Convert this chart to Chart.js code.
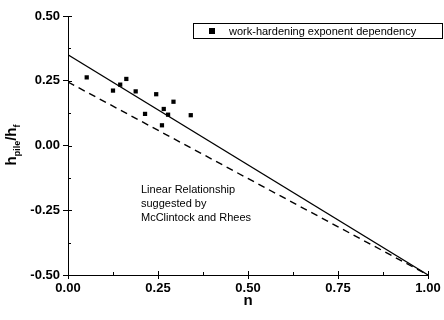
<!DOCTYPE html>
<html><head><meta charset="utf-8">
<script src="https://cdn.jsdelivr.net/npm/chart.js@4/dist/chart.umd.min.js"></script>
<style>html,body{margin:0;padding:0;background:#fff}#w{width:444px;height:320px}</style>
</head><body><div id="w"><canvas id="c" width="444" height="320"></canvas></div>
<script>
// ---- data ----
const nValues      = [0.052, 0.125, 0.145, 0.162, 0.188, 0.214, 0.245, 0.266, 0.261, 0.278, 0.293, 0.341];
const ratioValues  = [0.263, 0.212, 0.235, 0.257, 0.209, 0.122, 0.198, 0.141, 0.078, 0.119, 0.169, 0.117];
const lineN        = [0, 1];
const solidLine    = [0.35, -0.5];
const dashedLine   = [0.245, -0.5];
const xTicks       = [0, 0.25, 0.5, 0.75, 1];
const yTicks       = [-0.5, -0.25, 0, 0.25, 0.5];
const seriesLabel  = 'work-hardening exponent dependency';
const noteLines    = ['Linear Relationship', 'suggested by', 'McClintock and Rhees'];
const xTitle       = 'n';

const FONT = '"Liberation Sans", Arial, sans-serif';
const toXY = (xs, ys) => xs.map((x, i) => ({x: x, y: ys[i]}));

const decor = {
  id: 'decor',
  afterDraw(chart) {
    const ctx = chart.ctx, xs = chart.scales.x, ys = chart.scales.y, a = chart.chartArea;
    ctx.save();
    ctx.strokeStyle = '#000'; ctx.lineWidth = 1;
    // minor + inner ticks
    ctx.beginPath();
    for (let v = 0; v <= 1.0001; v += 0.125) {
      const px = Math.round(xs.getPixelForValue(v)) + 0.5;
      const len = (Math.abs(v / 0.25 - Math.round(v / 0.25)) < 1e-6) ? 4 : 3;
      ctx.moveTo(px, a.bottom); ctx.lineTo(px, a.bottom - len);
    }
    for (let v = -0.5; v <= 0.5001; v += 0.125) {
      const py = Math.round(ys.getPixelForValue(v)) + 0.5;
      const len = (Math.abs(v / 0.25 - Math.round(v / 0.25)) < 1e-6) ? 4 : 3;
      ctx.moveTo(a.left, py); ctx.lineTo(a.left + len, py);
    }
    ctx.stroke();

    // legend box
    const lx = 193, ly = 23, lw = 250, lh = 16;
    ctx.fillStyle = '#fff';
    ctx.fillRect(lx, ly, lw, lh);
    ctx.strokeRect(lx + 0.5, ly + 0.5, lw - 1, lh - 1);
    ctx.fillStyle = '#000';
    ctx.fillRect(209, 28, 6, 6);
    ctx.font = '11px ' + FONT;
    ctx.textBaseline = 'middle'; ctx.textAlign = 'left';
    ctx.fillText(seriesLabel, 229, 31.5);

    // annotation
    ctx.font = '11px ' + FONT;
    noteLines.forEach((t, i) => ctx.fillText(t, 141, 190 + i * 14));

    // x title
    ctx.font = 'bold 15px ' + FONT;
    ctx.textAlign = 'center'; ctx.textBaseline = 'middle';
    ctx.fillText(xTitle, (a.left + a.right) / 2, 301);

    // y title with subscripts, rotated
    ctx.translate(16, 145);
    ctx.rotate(-Math.PI / 2);
    ctx.textAlign = 'left'; ctx.textBaseline = 'alphabetic';
    const parts = [['h', false], ['pile', true], ['/h', false], ['f', true]];
    const fontFor = sub => sub ? 'bold 9px ' + FONT : 'bold 15px ' + FONT;
    let total = 0;
    parts.forEach(([t, s]) => { ctx.font = fontFor(s); total += ctx.measureText(t).width; });
    let cx = -total / 2;
    parts.forEach(([t, s]) => {
      ctx.font = fontFor(s);
      ctx.fillText(t, cx, s ? 4 : 0);
      cx += ctx.measureText(t).width;
    });
    ctx.restore();
  }
};

new Chart(document.getElementById('c'), {
  data: {
    datasets: [
      { type: 'scatter', label: seriesLabel, data: toXY(nValues, ratioValues),
        pointStyle: 'rect', radius: 3, backgroundColor: '#000', borderColor: '#000', borderWidth: 0 },
      { type: 'line', label: 'fit', data: toXY(lineN, solidLine), borderColor: '#000', borderWidth: 1.2,
        pointRadius: 0, fill: false },
      { type: 'line', label: 'McClintock and Rhees', data: toXY(lineN, dashedLine), borderColor: '#000',
        borderWidth: 1.4, borderDash: [7, 5], pointRadius: 0, fill: false }
    ]
  },
  options: {
    responsive: false, animation: false, devicePixelRatio: 1,
    layout: { padding: { top: 16, right: 16, left: 0, bottom: 0 } },
    plugins: { legend: { display: false }, tooltip: { enabled: false } },
    scales: {
      x: {
        type: 'linear', min: 0, max: 1,
        afterBuildTicks: s => { s.ticks = xTicks.map(v => ({value: v})); },
        afterFit: s => { s.height = 45; },
        ticks: { callback: v => v.toFixed(2), color: '#000', font: { family: FONT, size: 13, weight: 'bold' }, padding: 2, maxRotation: 0 },
        grid: { drawOnChartArea: false, drawTicks: true, tickLength: 4, color: '#000' },
        border: { display: true, color: '#000', width: 1 }
      },
      y: {
        type: 'linear', min: -0.5, max: 0.5,
        afterBuildTicks: s => { s.ticks = yTicks.map(v => ({value: v})); },
        afterFit: s => { s.width = 68; },
        ticks: { callback: v => v.toFixed(2), color: '#000', font: { family: FONT, size: 13, weight: 'bold' }, padding: 3 },
        grid: { drawOnChartArea: false, drawTicks: true, tickLength: 5, color: '#000' },
        border: { display: true, color: '#000', width: 1 }
      }
    }
  },
  plugins: [decor]
});
</script></body></html>
